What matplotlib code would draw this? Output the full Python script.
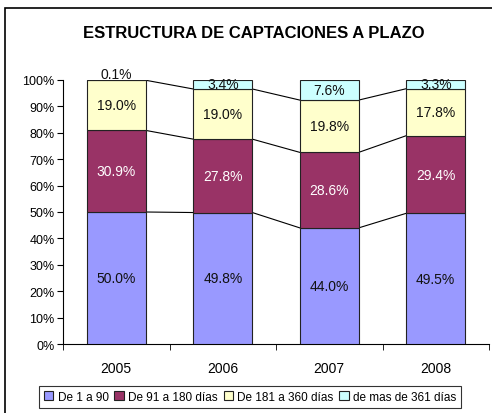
import matplotlib
matplotlib.use("Agg")
import matplotlib.pyplot as plt
from matplotlib.patches import Rectangle
import numpy as np

years = ["2005", "2006", "2007", "2008"]
series_names = ["De 1 a 90", "De 91 a 180 días", "De 181 a 360 días", "de mas de 361 días"]
s1 = [50.0, 49.8, 44.0, 49.5]
s2 = [30.9, 27.8, 28.6, 29.4]
s3 = [19.0, 19.0, 19.8, 17.8]
s4 = [0.1, 3.4, 7.6, 3.3]
colors = ["#9999FF", "#993366", "#FFFFCC", "#CCFFFF"]
text_colors = ["#111111", "white", "#111111", "#111111"]

plt.rcParams['font.family'] = ['Liberation Sans', 'DejaVu Sans']

W, H = 492, 414
fig = plt.figure(figsize=(W / 100, H / 100), dpi=100)
fig.patch.set_facecolor("white")

# outer frame
fig.add_artist(Rectangle((5 / W, -0.1), 1.2, 1 - 9 / H + 0.1, transform=fig.transFigure,
                         fill=False, edgecolor="black", linewidth=1.2))

ax = fig.add_axes([63 / W, 1 - 345 / H, (489 - 63) / W, (345 - 81) / H])
data = [s1, s2, s3, s4]
x = np.arange(len(years))
width = 0.555
bottom = np.zeros(len(years))
for i, s in enumerate(data):
    vals = np.array(s)
    ax.bar(x, vals, width, bottom=bottom, color=colors[i], edgecolor="#222222",
           linewidth=0.8, label=series_names[i], zorder=3)
    for j in range(len(years)):
        yc = bottom[j] + vals[j] / 2
        if vals[j] < 1:
            yc = bottom[j] + vals[j] + 2.2
        ax.text(x[j], yc, f"{vals[j]:.1f}%", ha="center", va="center",
                fontsize=10, color=text_colors[i], zorder=5)
    top = bottom + vals
    # series lines between bars
    if i < len(data) - 1:
        for j in range(len(years) - 1):
            ax.plot([x[j] + width / 2, x[j + 1] - width / 2], [top[j], top[j + 1]],
                    color="black", linewidth=0.8, zorder=2)
    bottom = top

ax.set_xlim(-0.5, 3.5)
ax.set_ylim(0, 100)
ax.set_yticks(np.arange(0, 101, 10))
ax.set_yticklabels([f"{v}%" for v in range(0, 101, 10)], fontsize=9)
ax.set_xticks(x)
ax.set_xticklabels(years, fontsize=10)
ax.set_xticks(np.arange(-0.5, 4, 1), minor=True)
ax.tick_params(axis="x", which="major", length=0, pad=12)
ax.tick_params(axis="x", which="minor", length=4, direction="out", color="black")
ax.tick_params(axis="y", length=4, direction="out", color="black", pad=2)
for sp in ["top", "right"]:
    ax.spines[sp].set_visible(False)
for sp in ["left", "bottom"]:
    ax.spines[sp].set_color("black")
    ax.spines[sp].set_linewidth(0.8)

fig.text(254 / W, 1 - 33 / H, "ESTRUCTURA DE CAPTACIONES A PLAZO", ha="center", va="center",
         fontsize=12, fontweight="bold")

leg = fig.legend(loc="center", bbox_to_anchor=(250 / W, 1 - 398 / H), ncol=4, fontsize=8.5,
                 frameon=True, fancybox=False, edgecolor="black", handlelength=0.8,
                 handleheight=0.8, handletextpad=0.35, columnspacing=0.5, borderpad=0.45)
leg.get_frame().set_linewidth(0.8)

fig.savefig("out.png", dpi=100, facecolor="white")
